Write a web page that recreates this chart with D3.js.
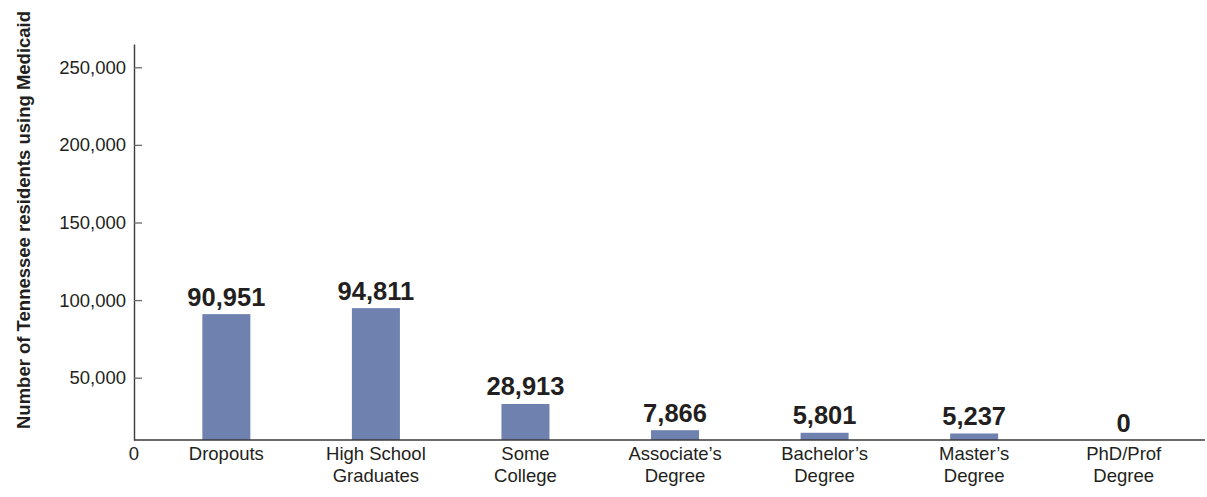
<!DOCTYPE html>
<html>
<head>
<meta charset="utf-8">
<script src="https://cdn.jsdelivr.net/npm/d3@7"></script>
<style>
  body { margin: 0; background: #fff; }
  text { font-family: "Liberation Sans", Arial, Helvetica, sans-serif; fill: #231f20; }
</style>
</head>
<body>
<svg id="chart" width="1207" height="497"></svg>
<script>
// Education level (line breaks marked with \n)
const categories = [
  "Dropouts",
  "High School\nGraduates",
  "Some\nCollege",
  "Associate’s\nDegree",
  "Bachelor’s\nDegree",
  "Master’s\nDegree",
  "PhD/Prof\nDegree"
];
// Tennessee residents using Medicaid
const values = [90951, 94811, 28913, 7866, 5801, 5237, 0];
const yTickValues = [50000, 100000, 150000, 200000, 250000];
const yTitle = "Number of Tennessee residents using Medicaid";

const W = 1207, H = 497;
const left = 134, right = 1205, baseY = 440;
const fmt = d3.format(",");

const svg = d3.select("#chart");

// Value axis: origin at the baseline, then evenly spaced 50,000 steps
const y = d3.scaleLinear()
  .domain([0, 50000, 265000])
  .range([baseY, 377.7, 44]);

const x = d3.scaleBand()
  .domain(categories)
  .range([left, right])
  .paddingInner(0.679)
  .paddingOuter(0.42)
  .align(0.544);

// Bars
svg.append("g")
  .selectAll("rect")
  .data(values)
  .join("rect")
  .attr("x", (d, i) => x(categories[i]))
  .attr("width", x.bandwidth())
  .attr("y", d => y(d))
  .attr("height", d => baseY - y(d))
  .attr("fill", "#6f81af");

// Y axis with inward ticks
const yAxis = svg.append("g")
  .attr("transform", `translate(${left},0)`)
  .call(d3.axisLeft(y)
    .tickValues(yTickValues)
    .tickFormat(fmt)
    .tickSize(-8)
    .tickSizeOuter(0)
    .tickPadding(8));
yAxis.attr("font-family", null).attr("font-size", null);
yAxis.select(".domain").attr("stroke", "#3a3a3a").attr("stroke-width", 1.4);
yAxis.selectAll(".tick line").attr("stroke", "#6a6a6a").attr("stroke-width", 1.3);
yAxis.selectAll(".tick text")
  .style("font-size", "18.5px")
  .attr("fill", "#231f20");

// Baseline
svg.append("line")
  .attr("x1", left).attr("x2", right)
  .attr("y1", baseY).attr("y2", baseY)
  .attr("stroke", "#3a3a3a")
  .attr("stroke-width", 1.4);

// Origin label
svg.append("text")
  .attr("x", left)
  .attr("y", y(0) + 20)
  .attr("text-anchor", "middle")
  .style("font-size", "18.5px")
  .text("0");

// Value labels
svg.append("g")
  .selectAll("text")
  .data(values)
  .join("text")
  .attr("x", (d, i) => x(categories[i]) + x.bandwidth() / 2)
  .attr("y", d => y(d) - 8.5)
  .attr("text-anchor", "middle")
  .style("font-size", "25.5px")
  .style("font-weight", "bold")
  .text(d => fmt(d));

// Category labels
const cat = svg.append("g")
  .selectAll("text")
  .data(categories)
  .join("text")
  .attr("x", d => x(d) + x.bandwidth() / 2)
  .attr("y", baseY + 20)
  .attr("text-anchor", "middle")
  .style("font-size", "18.5px");
cat.each(function(d) {
  const t = d3.select(this);
  d.split("\n").forEach((line, i) => {
    t.append("tspan")
      .attr("x", x(d) + x.bandwidth() / 2)
      .attr("dy", i === 0 ? 0 : 22.3)
      .text(line);
  });
});

// Y title
svg.append("text")
  .attr("transform", "translate(29.7,220) rotate(-90)")
  .attr("text-anchor", "middle")
  .style("font-size", "18.5px")
  .style("font-weight", "bold")
  .text(yTitle);
</script>
</body>
</html>
